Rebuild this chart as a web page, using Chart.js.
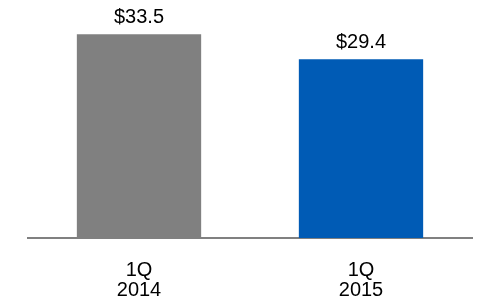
<!DOCTYPE html>
<html>
<head>
<meta charset="utf-8">
<script src="https://cdn.jsdelivr.net/npm/chart.js@4"></script>
<style>
  html, body { margin: 0; padding: 0; background: #fff; }
  #wrap { width: 500px; height: 300px; }
</style>
</head>
<body>
<div id="wrap"><canvas id="myChart" width="500" height="300"></canvas></div>
<script>
const periods = [["1Q", "2014"], ["1Q", "2015"]];
const revenue = [33.5, 29.4];
const valueLabels = ["$33.5", "$29.4"];
const barColors = ["#808080", "#005BB5"];

// value labels above each bar
const topLabels = {
  id: 'topLabels',
  afterDatasetsDraw(chart) {
    const ctx = chart.ctx;
    const meta = chart.getDatasetMeta(0);
    ctx.save();
    ctx.font = '20px "Liberation Sans", Arial, sans-serif';
    ctx.fillStyle = '#000';
    ctx.textAlign = 'center';
    ctx.textBaseline = 'middle';
    meta.data.forEach(function (bar, i) {
      ctx.fillText(valueLabels[i], bar.x, bar.y - 17);
    });
    ctx.restore();
  }
};

let myChart = document.getElementById('myChart').getContext('2d');
let chart = new Chart(myChart, {
  type: 'bar',
  data: {
    labels: periods,
    datasets: [{
      data: revenue,
      backgroundColor: barColors,
      categoryPercentage: 1,
      barPercentage: 0.56
    }]
  },
  options: {
    responsive: false,
    animation: false,
    layout: { padding: { left: 28, right: 28, top: 19, bottom: 0 } },
    plugins: { legend: { display: false }, tooltip: { enabled: false } },
    scales: {
      x: {
        grid: { display: false, drawTicks: false },
        border: { display: true, color: '#808080', width: 2 },
        ticks: {
          color: '#000',
          padding: 22,
          font: { family: '"Liberation Sans", Arial, sans-serif', size: 20, lineHeight: 1.0 }
        },
        afterFit(scale) { scale.height = 62; }
      },
      y: {
        display: false,
        min: 0,
        max: 36
      }
    }
  },
  plugins: [topLabels]
});
</script>
</body>
</html>
